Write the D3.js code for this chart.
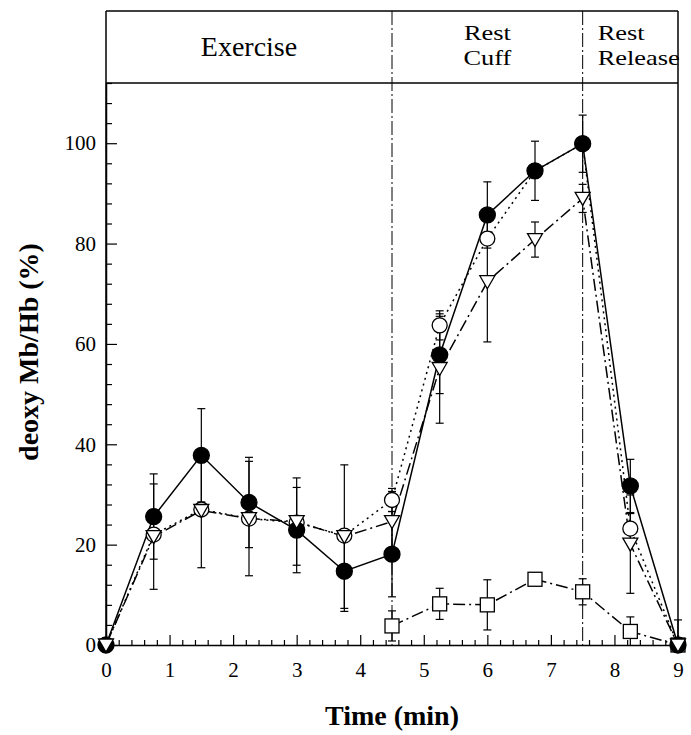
<!DOCTYPE html>
<html>
<head>
<meta charset="utf-8">
<script src="https://cdn.jsdelivr.net/npm/d3@7"></script>
<style>
  body { margin: 0; background: #fff; }
  svg { display: block; }
</style>
</head>
<body>
<div id="vis"></div>
<script>
// time points (min)
const times = [0, 0.75, 1.5, 2.25, 3, 3.75, 4.5, 5.25, 6, 6.75, 7.5, 8.25, 9];

// filled circles, solid line
const filledMean = [0, 25.6, 37.8, 28.4, 22.9, 14.7, 18.1, 57.8, 85.7, 94.5, 99.9, 31.7, 0];
const filledErr = [0, 8.5, 9.3, 9.0, 8.5, 8.0, 8.5, 7.7, 6.6, 5.9, 5.7, 5.3, 0];

// open circles, dotted line
const openMean = [0, 22.0, 27.0, 25.2, 24.4, 21.8, 28.9, 63.7, 81.0, 94.5, 99.9, 23.2, 0];
const openErr = [0, 0, 0, 0, 0, 0, 2.3, 2.9, 0, 0, 0, 3.0, 0];

// open triangles, dash-dot line
const triMean = [0, 21.6, 26.8, 25.2, 24.6, 21.6, 24.6, 55.1, 72.4, 80.8, 89.0, 20.1, 0];
const triErr = [0, 10.5, 11.4, 11.4, 8.7, 14.3, 6.0, 10.9, 12.0, 3.5, 2.8, 9.8, 5.0];

// open squares, dash-dot line (cuff onwards)
const squareTimes = [4.5, 5.25, 6, 6.75, 7.5, 8.25, 9];
const squareMean = [3.8, 8.2, 8.0, 13.1, 10.6, 2.7, 0];
const squareErr = [3.0, 3.1, 5.0, 0, 2.6, 2.9, 0];

// protocol phases
const phaseNames = [["Exercise"], ["Rest", "Cuff"], ["Rest", "Release"]];
const phaseEdges = [0, 4.5, 7.5, 9];

const xTickValues = [0, 1, 2, 3, 4, 5, 6, 7, 8, 9];
const yTickValues = [0, 20, 40, 60, 80, 100];

const width = 691, height = 735;
const serif = "'Liberation Serif', 'Times New Roman', serif";

const svg = d3.select("#vis").append("svg")
  .attr("width", width)
  .attr("height", height)
  .attr("font-family", serif);

const headerTop = 11;
const x = d3.scaleLinear().domain([0, 9]).range([106, 678]);
const y = d3.scaleLinear().domain([0, 112]).range([645, 83]);

// ---- header box with phase names
const header = svg.append("g").attr("stroke", "#000").attr("stroke-width", 1.5);
header.append("line")
  .attr("x1", x(0)).attr("x2", x(9))
  .attr("y1", headerTop).attr("y2", headerTop);
header.append("line")
  .attr("x1", x(0)).attr("x2", x(9))
  .attr("y1", y(112)).attr("y2", y(112));
header.append("line")
  .attr("x1", x(0)).attr("x2", x(0))
  .attr("y1", headerTop).attr("y2", y(0));
header.append("line")
  .attr("x1", x(9)).attr("x2", x(9))
  .attr("y1", headerTop).attr("y2", y(0));

svg.append("g")
  .selectAll("line")
  .data(phaseEdges.slice(1, -1))
  .join("line")
  .attr("x1", (d) => x(d)).attr("x2", (d) => x(d))
  .attr("y1", headerTop).attr("y2", y(0))
  .attr("stroke", "#000")
  .attr("stroke-width", 1)
  .attr("stroke-dasharray", "14,3,2,3");

const phaseLabels = svg.append("g").attr("fill", "#000");
phaseNames.forEach((lines, i) => {
  const mid = (phaseEdges[i] + phaseEdges[i + 1]) / 2;
  if (lines.length === 1) {
    phaseLabels.append("text")
      .attr("x", x(mid))
      .attr("y", 56)
      .attr("text-anchor", "middle")
      .attr("font-size", 28)
      .text(lines[0]);
  } else {
    // last column hugs its left divider
    const anchor = i === 2 ? "start" : "middle";
    const px = i === 2 ? x(phaseEdges[i]) + 15 : x(mid);
    lines.forEach((s, j) => {
      phaseLabels.append("text")
        .attr("transform", `translate(${px},${40 + j * 25}) scale(1.2,1)`)
        .attr("text-anchor", anchor)
        .attr("font-size", 22)
        .text(s);
    });
  }
});

// ---- axes
const styleAxis = (g) => {
  g.select(".domain").attr("stroke-width", 1.5);
  g.selectAll(".tick line").attr("stroke-width", 1.2);
  g.selectAll("text").attr("font-family", serif).attr("font-size", 21).attr("fill", "#000");
};

svg.append("g")
  .attr("transform", `translate(${x(0)},0)`)
  .call(d3.axisLeft(y).tickValues(yTickValues).tickSizeInner(-11).tickSizeOuter(0).tickPadding(10))
  .call(styleAxis);

svg.append("g")
  .attr("transform", `translate(${x(0)},0)`)
  .call(d3.axisLeft(y)
    .tickValues(d3.range(0, 113, 4).filter((v) => v % 20 !== 0))
    .tickSizeInner(-6).tickSizeOuter(0).tickFormat(""))
  .call((g) => g.select(".domain").remove())
  .call(styleAxis);

svg.append("g")
  .attr("transform", `translate(0,${y(0)})`)
  .call(d3.axisBottom(x).tickValues(xTickValues).tickSizeInner(-10).tickSizeOuter(0).tickPadding(17))
  .call(styleAxis);

svg.append("g")
  .attr("transform", `translate(0,${y(0)})`)
  .call(d3.axisBottom(x)
    .tickValues(d3.range(0, 45).map((i) => i * 0.2).filter((v) => Math.abs(v - Math.round(v)) > 0.01))
    .tickSizeInner(-5).tickSizeOuter(0).tickFormat(""))
  .call((g) => g.select(".domain").remove())
  .call(styleAxis);

// axis titles
svg.append("text")
  .attr("transform", `translate(38,352) rotate(-90)`)
  .attr("text-anchor", "middle")
  .attr("font-size", 28)
  .attr("font-weight", "bold")
  .text("deoxy Mb/Hb (%)");

svg.append("text")
  .attr("x", x(4.5))
  .attr("y", 725)
  .attr("text-anchor", "middle")
  .attr("font-size", 28)
  .attr("font-weight", "bold")
  .text("Time (min)");

// ---- series
const toPoints = (ts, means, errs) => ts.map((t, i) => ({ t, v: means[i], e: errs[i] }));

const series = [
  { key: "square", pts: toPoints(squareTimes, squareMean, squareErr), dash: "12,4,2,4" },
  { key: "open", pts: toPoints(times, openMean, openErr), dash: "2,4" },
  { key: "tri", pts: toPoints(times, triMean, triErr), dash: "12,4,2,4" },
  { key: "filled", pts: toPoints(times, filledMean, filledErr), dash: null }
];

const line = d3.line().x((d) => x(d.t)).y((d) => y(d.v));

svg.append("g")
  .selectAll("path")
  .data(series)
  .join("path")
  .attr("d", (d) => line(d.pts))
  .attr("fill", "none")
  .attr("stroke", "#000")
  .attr("stroke-width", 1.5)
  .attr("stroke-dasharray", (d) => d.dash);

// error bars
const errData = series.flatMap((s) => s.pts.filter((p) => p.e > 0));
const errG = svg.append("g").attr("stroke", "#000").attr("stroke-width", 1.2);
errG.selectAll(".stem")
  .data(errData)
  .join("line")
  .attr("class", "stem")
  .attr("x1", (d) => x(d.t)).attr("x2", (d) => x(d.t))
  .attr("y1", (d) => y(d.v + d.e))
  .attr("y2", (d) => y(Math.max(0, d.v - d.e)));
errG.selectAll(".capTop")
  .data(errData)
  .join("line")
  .attr("class", "capTop")
  .attr("x1", (d) => x(d.t) - 4).attr("x2", (d) => x(d.t) + 4)
  .attr("y1", (d) => y(d.v + d.e)).attr("y2", (d) => y(d.v + d.e));
errG.selectAll(".capBottom")
  .data(errData.filter((d) => d.v - d.e > 0))
  .join("line")
  .attr("class", "capBottom")
  .attr("x1", (d) => x(d.t) - 4).attr("x2", (d) => x(d.t) + 4)
  .attr("y1", (d) => y(d.v - d.e)).attr("y2", (d) => y(d.v - d.e));

// markers: squares, open circles, filled circles, triangles on top
const markers = svg.append("g").attr("stroke", "#000").attr("stroke-width", 1.3);

markers.selectAll(".sq")
  .data(series[0].pts)
  .join("rect")
  .attr("class", "sq")
  .attr("x", (d) => x(d.t) - 7).attr("y", (d) => y(d.v) - 7)
  .attr("width", 14).attr("height", 14)
  .attr("fill", "#fff");

markers.selectAll(".oc")
  .data(series[1].pts)
  .join("circle")
  .attr("class", "oc")
  .attr("cx", (d) => x(d.t)).attr("cy", (d) => y(d.v))
  .attr("r", 7.5)
  .attr("fill", "#fff");

markers.selectAll(".fc")
  .data(series[3].pts)
  .join("circle")
  .attr("class", "fc")
  .attr("cx", (d) => x(d.t)).attr("cy", (d) => y(d.v))
  .attr("r", 8)
  .attr("fill", "#000");

markers.selectAll(".tr")
  .data(series[2].pts)
  .join("path")
  .attr("class", "tr")
  .attr("d", (d) => {
    const cx = x(d.t), cy = y(d.v);
    return `M${cx - 7.5},${cy - 6}L${cx + 7.5},${cy - 6}L${cx},${cy + 7}Z`;
  })
  .attr("fill", "#fff");
</script>
</body>
</html>
